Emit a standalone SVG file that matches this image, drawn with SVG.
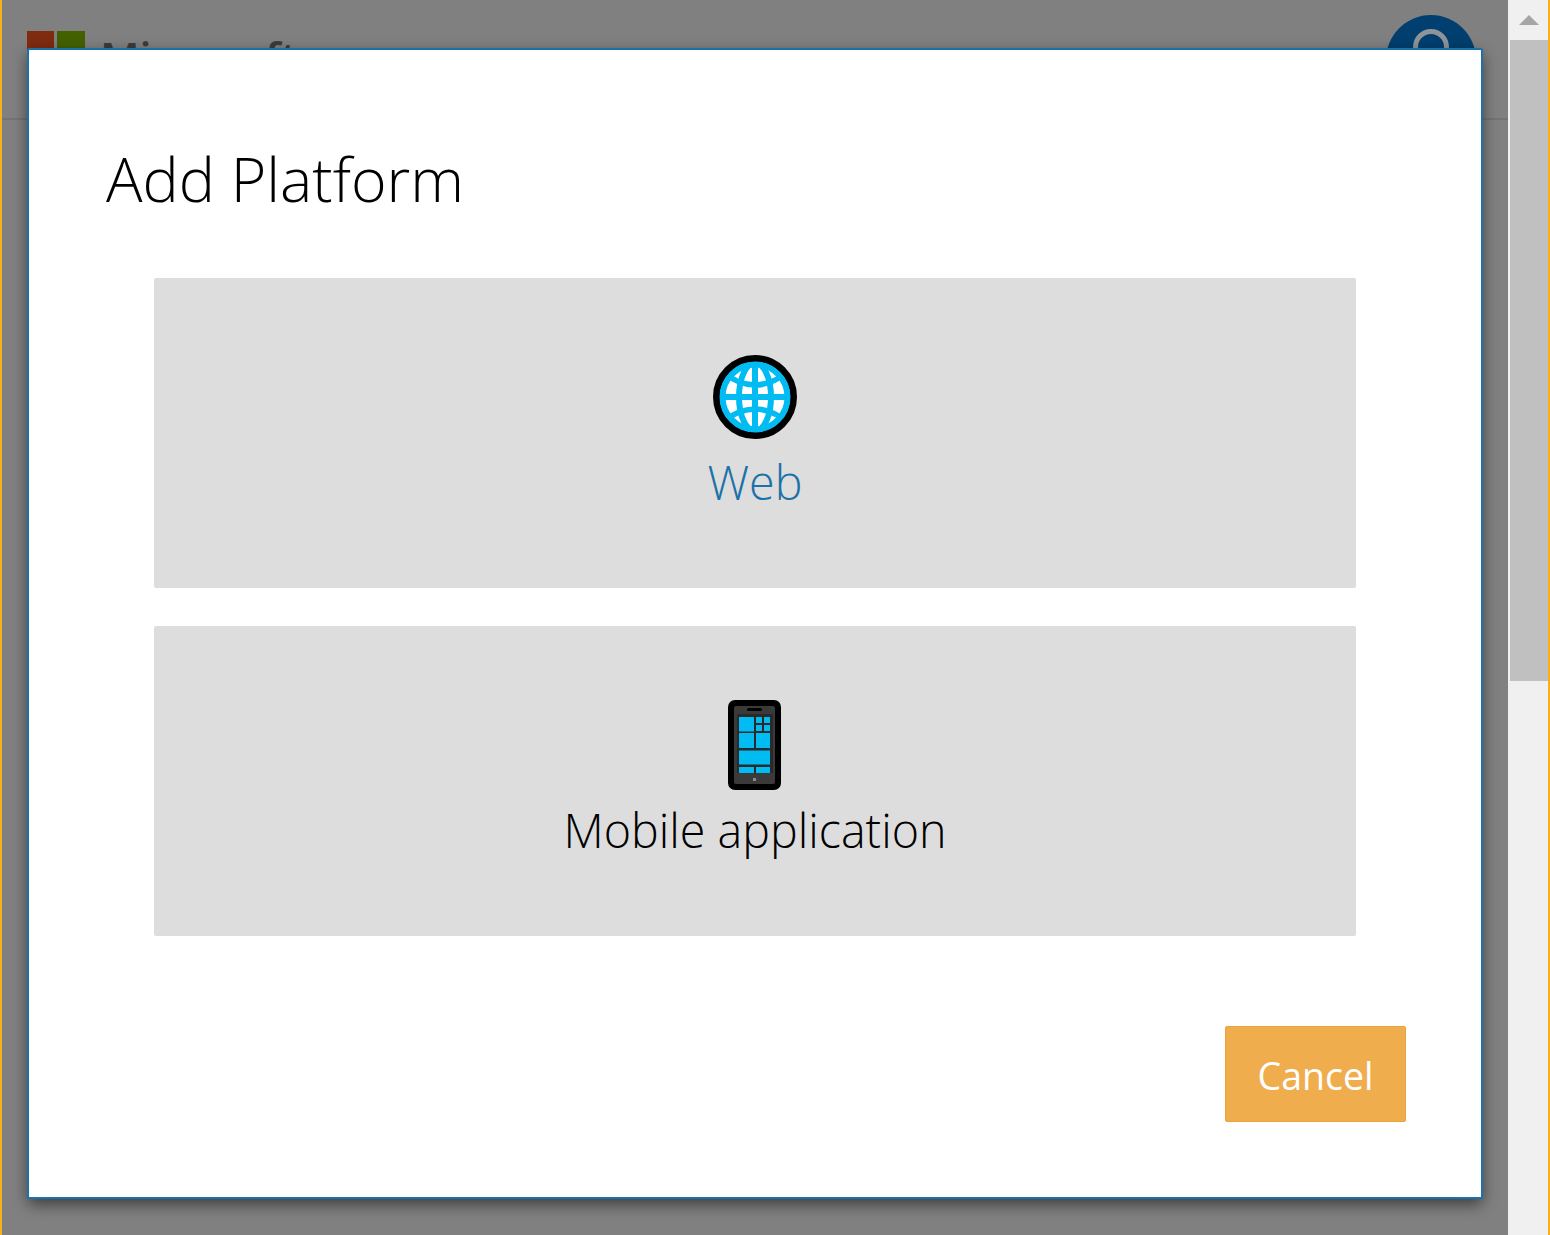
<svg xmlns="http://www.w3.org/2000/svg" width="1550" height="1235" viewBox="0 0 1550 1235">
<style>
.t{font-family:"Open Sans","Noto Sans","Liberation Sans",sans-serif;font-weight:300;text-anchor:middle}
.tile{fill:#dddddd}
.b{fill:#00bcf2}
</style>
<defs>
<filter id="sh" x="-5%" y="-5%" width="110%" height="110%"><feGaussianBlur stdDeviation="8"/></filter>
<clipPath id="globe"><circle cx="755" cy="397" r="34.5"/></clipPath>
</defs>
<g id="page">
<rect width="1550" height="1235" fill="#808080"/>
<rect x="0" y="118" width="1508" height="2" fill="#747474"/>
<rect x="27" y="31" width="27" height="27" fill="#7f2b10"/>
<rect x="57" y="31" width="28" height="27" fill="#446100"/>
<text x="100" y="74" font-family="'Open Sans','Liberation Sans',sans-serif" font-size="43" font-weight="600" fill="#3c3c3c">Microsoft</text>
<circle cx="1431" cy="60" r="45" fill="#003f6f"/>
<circle cx="1431" cy="47" r="15.500" fill="none" stroke="#8f9498" stroke-width="5"/>
<rect x="1508" y="0" width="42" height="1235" fill="#f0f0f0"/>
<rect x="1510" y="40" width="38" height="641" fill="#c0c0c0"/>
<path d="M1519 25L1529 15L1539 25Z" fill="#a6a6a6"/>
<rect x="0" y="0" width="2" height="1235" fill="#f5b21a"/>
<rect x="1548" y="0" width="2" height="1235" fill="#f5b21a"/>
</g>
<g id="dialog">
<rect x="28" y="54" width="1454" height="1150" fill="#000" opacity="0.55" filter="url(#sh)"/>
<rect x="28" y="49" width="1454" height="1149" rx="1.5" fill="#fff" stroke="#1a72a8" stroke-width="2"/>
<text id="title" class="t" x="285" y="202" font-size="61" fill="#000" textLength="358" lengthAdjust="spacingAndGlyphs">Add Platform</text>
</g>
<g id="web">
<rect class="tile" x="154" y="278" width="1202" height="310" rx="2"/>
<circle cx="755" cy="397" r="38.500" fill="#fff" stroke="#000" stroke-width="7"/>
<g clip-path="url(#globe)" fill="none" stroke="#00bcf2" stroke-width="6">
<path d="M755 362V432"/>
<path d="M720 397H790"/>
<ellipse cx="755" cy="397" rx="16" ry="34"/>
<path d="M720 370Q755 400 790 370M720 424Q755 394 790 424" stroke-width="5.500"/>
</g>
<circle cx="755" cy="397" r="32.500" fill="none" stroke="#00bcf2" stroke-width="6"/>
<text class="t" x="755" y="500" font-size="47" fill="#1a72a8" textLength="95" lengthAdjust="spacingAndGlyphs">Web</text>
</g>
<g id="mobile">
<rect class="tile" x="154" y="626" width="1202" height="310" rx="2"/>
<rect x="728" y="700" width="53" height="90" rx="7" fill="#000"/>
<rect x="734" y="706" width="41" height="78" rx="2" fill="#3a3a3a"/>
<rect x="747" y="708" width="15" height="3" rx="1.500" fill="#000"/>
<rect x="737" y="714" width="36" height="59" fill="#2a2a2a"/>
<rect class="b" x="739" y="717" width="15" height="14.500"/>
<rect class="b" x="756" y="717" width="6" height="6"/>
<rect class="b" x="764" y="717" width="6" height="6"/>
<rect class="b" x="756" y="725" width="6" height="6"/>
<rect class="b" x="764" y="725" width="6" height="6"/>
<rect class="b" x="739" y="733" width="15" height="15"/>
<rect class="b" x="756" y="733" width="14" height="15"/>
<rect class="b" x="739" y="750.500" width="31" height="14"/>
<rect class="b" x="739" y="767" width="15" height="6"/>
<rect class="b" x="756" y="767" width="14" height="6"/>
<rect x="753" y="778" width="3" height="3" fill="#8a8a8a"/>
<text class="t" x="755" y="848" font-size="47" fill="#000" textLength="383" lengthAdjust="spacingAndGlyphs">Mobile application</text>
</g>
<g id="cancel">
<rect x="1225.500" y="1026.500" width="180" height="95" rx="1.500" fill="#f0ad4e" stroke="#eea236"/>
<text x="1315.500" y="1090" font-family="'Open Sans','Liberation Sans',sans-serif" font-size="38" fill="#fff" text-anchor="middle" textLength="116" lengthAdjust="spacingAndGlyphs">Cancel</text>
</g>
<g id="connectors"/>
</svg>
